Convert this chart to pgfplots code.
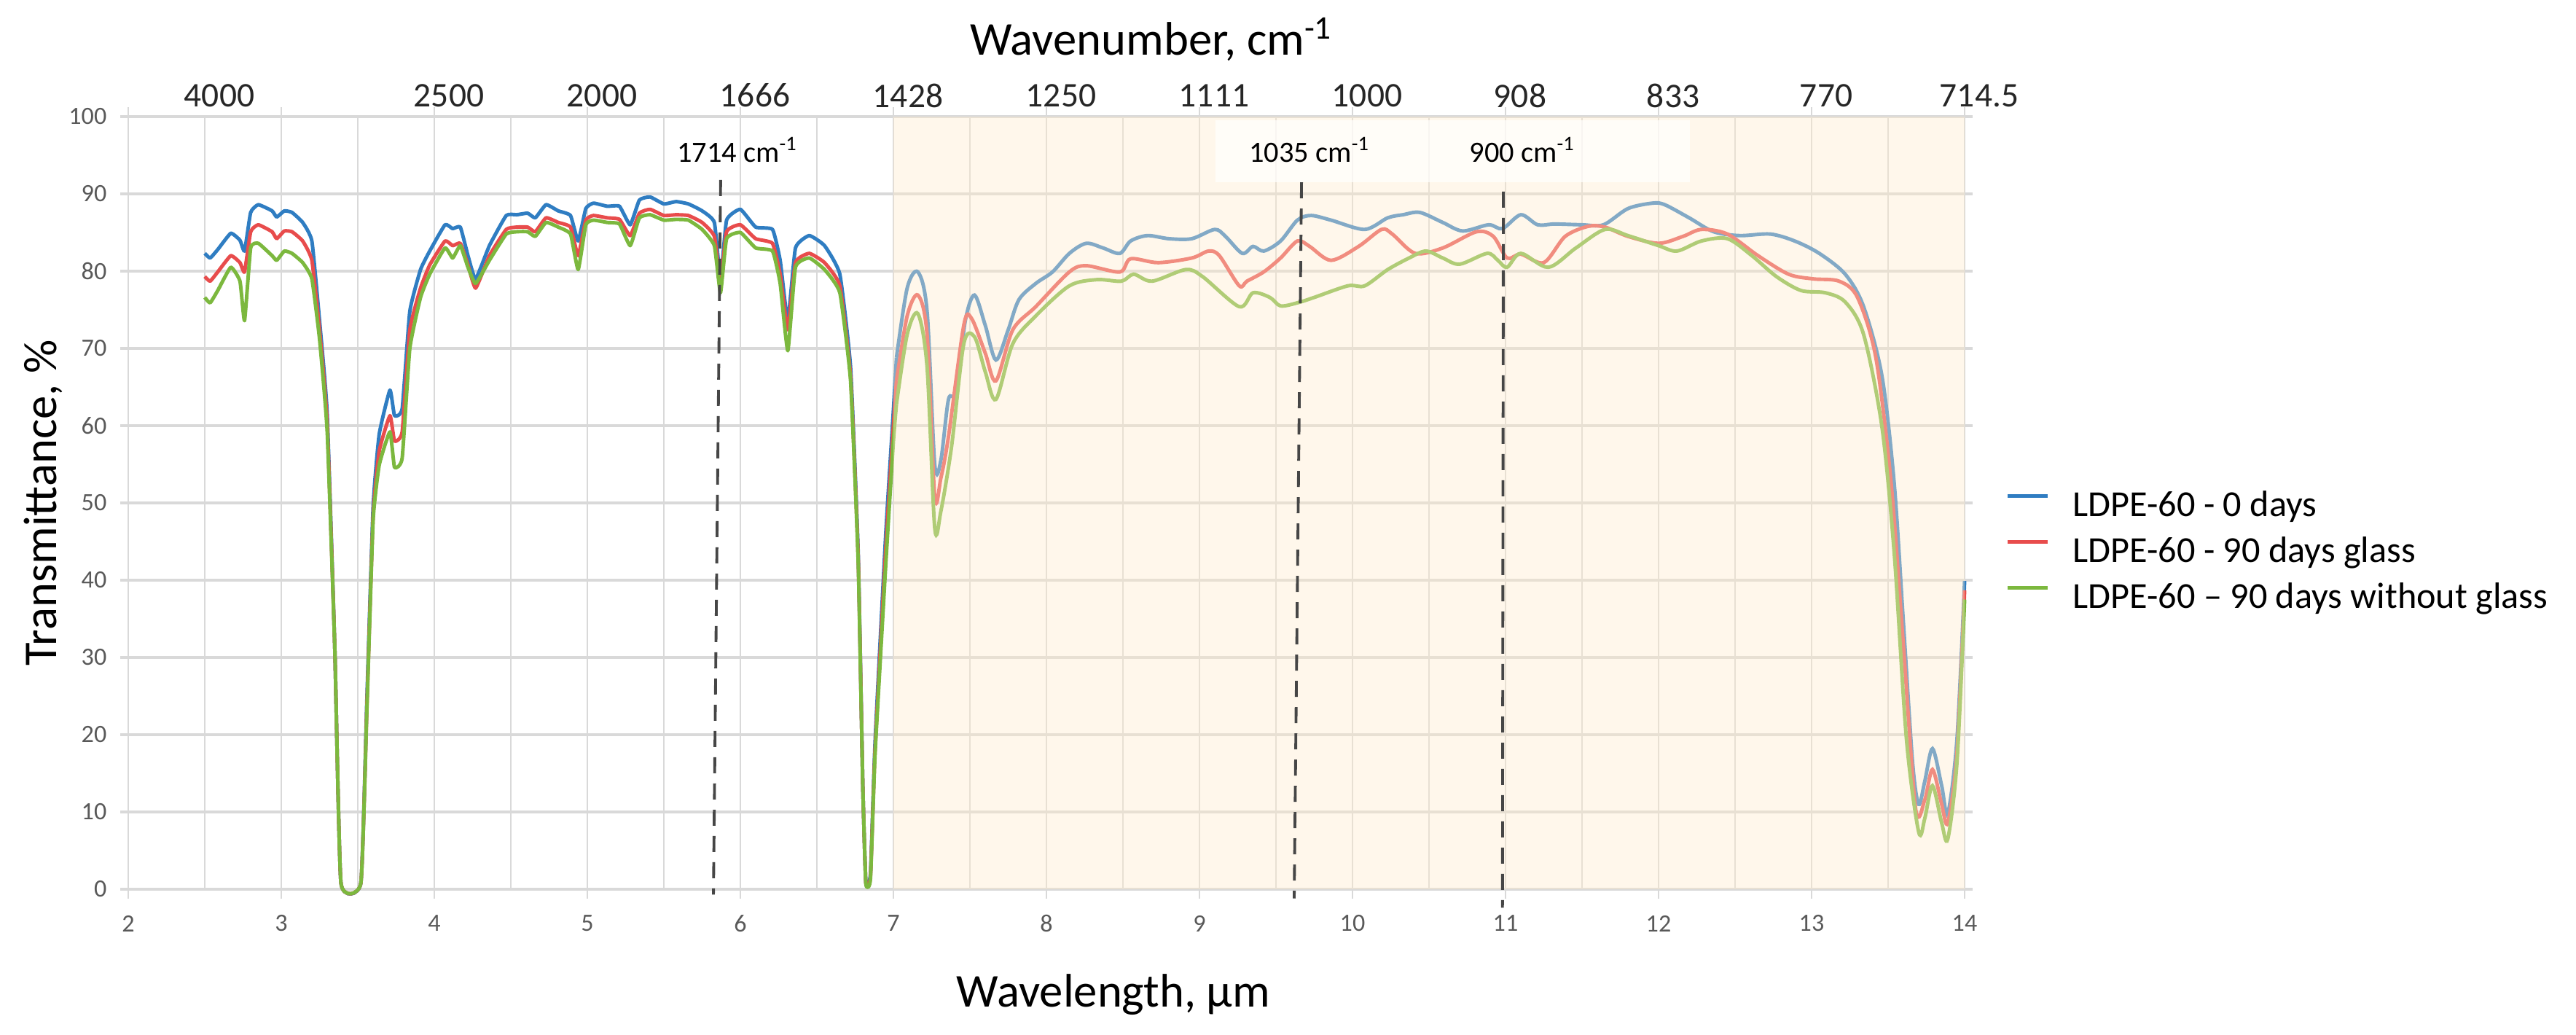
\documentclass[border=0pt]{standalone}
\usepackage{fontspec}
\setmainfont{Carlito}
\usepackage{pgfplots}
\pgfplotsset{compat=1.18}

\definecolor{gridgray}{RGB}{217,217,217}
\definecolor{ticktext}{RGB}{89,89,89}
\definecolor{toptext}{RGB}{38,38,38}
\definecolor{sblue}{RGB}{47,125,194}
\definecolor{sred}{RGB}{232,76,76}
\definecolor{sgreen}{RGB}{124,184,62}
\definecolor{bandcolor}{RGB}{255,236,204}
\definecolor{dashgray}{RGB}{70,70,70}

\begin{document}
\begin{tikzpicture}
\useasboundingbox (-17.6mm,-19.9mm) rectangle (335.9mm,122mm);

% horizontal grid lines and y tick labels
\begin{axis}[
    scale only axis, width=252mm, height=106mm,
    xmin=2, xmax=14, ymin=0, ymax=100,
    axis line style={draw=none},
    xtick=\empty,
    ytick={0,10,...,100},
    ymajorgrids,
    grid style={line width=1.3pt, color=gridgray},
    tick align=outside, major tick length=1.1mm,
    tick style={line width=1.3pt, color=gridgray},
    yticklabel style={font=\fontsize{9.7}{11}\selectfont, text=ticktext, anchor=east, inner sep=0pt, xshift=-1.8mm},
    /pgf/number format/assume math mode=true,
]
\end{axis}

% main axis: vertical grid, curves, notes
\begin{axis}[
    scale only axis, width=252mm, height=106mm,
    xmin=2, xmax=14, ymin=0, ymax=100,
    axis line style={draw=none},
    xtick={2,...,14}, minor x tick num=1,
    ytick=\empty,
    xmajorgrids, xminorgrids,
    grid style={line width=0.55pt, color=gridgray},
    tick align=outside, major tick length=1.3mm, minor tick length=0pt,
    tick style={line width=0.55pt, color=gridgray},
    xticklabel style={font=\fontsize{9.7}{11}\selectfont, text=ticktext, anchor=center, yshift=-3.4mm},
    /pgf/number format/assume math mode=true,
    clip=false,
    legend style={
        at={(axis cs:14,43.45)}, anchor=west, xshift=5.6mm,
        draw=none, fill=none, inner sep=0pt, row sep=2.86pt,
        nodes={inner sep=0pt, text height=11pt, text depth=4pt},
        font=\fontsize{14.3}{17}\selectfont,
        /tikz/every odd column/.append style={column sep=3.2mm},
    },
    legend cell align=left,
    legend image code/.code={\draw[#1, sharp plot] (0mm,1.6mm) -- (5.5mm,1.6mm);},
]

% ---- 2.5 to 7 um
\addplot[sblue, line width=1.4pt, line join=round, smooth, tension=0.25] coordinates {
    (2.50,82.3) (2.535,81.7) (2.585,82.8) (2.67,84.9) (2.73,84.0) (2.76,82.6)
    (2.80,87.6) (2.85,88.6) (2.94,87.8) (2.97,87.0) (3.02,87.8) (3.07,87.6)
    (3.14,86.3) (3.20,83.9) (3.25,73.6) (3.30,61.6) (3.35,31.0) (3.39,0.8)
    (3.52,0.8) (3.56,25) (3.60,49.5) (3.64,58.9) (3.71,64.6) (3.74,61.3)
    (3.79,62.2) (3.84,74.8) (3.91,80.2) (3.97,82.6) (4.07,86.0) (4.12,85.5)
    (4.17,85.7) (4.22,82.0) (4.27,79.0) (4.36,83.3) (4.47,87.2) (4.54,87.3)
    (4.61,87.5) (4.66,86.9) (4.73,88.6) (4.81,87.8) (4.89,87.2) (4.94,83.9)
    (4.99,88.1) (5.04,88.8) (5.13,88.4) (5.21,88.4) (5.28,86.0) (5.34,89.2)
    (5.41,89.6) (5.50,88.7) (5.58,89.0) (5.66,88.7) (5.75,87.8) (5.83,86.3)
    (5.87,79.0) (5.91,86.6) (6.00,88.0) (6.10,85.7) (6.21,85.4) (6.26,81.4)
    (6.31,73.6) (6.36,83.0) (6.45,84.6) (6.55,83.3) (6.65,79.6) (6.72,67.6)
    (6.77,43.5) (6.80,13.4) (6.82,0.9) (6.85,2) (6.88,19) (6.95,46)
    (7.00,62) (7.02,68.8)
};
\addlegendentry{LDPE-60 - 0 days}

\addplot[sred, line width=1.4pt, line join=round, smooth, tension=0.25] coordinates {
    (2.50,79.3) (2.535,78.7) (2.585,79.9) (2.67,82.0) (2.73,81.1) (2.76,79.9)
    (2.80,85.1) (2.85,86.0) (2.94,85.1) (2.97,84.2) (3.02,85.2) (3.07,85.1)
    (3.14,83.9) (3.20,81.4) (3.25,72.4) (3.30,60.4) (3.35,31.0) (3.39,0.8)
    (3.52,0.8) (3.56,24) (3.60,48.3) (3.64,56.7) (3.71,61.3) (3.74,58.0)
    (3.79,59.2) (3.84,72.4) (3.91,77.8) (3.97,80.8) (4.07,83.9) (4.12,83.3)
    (4.17,83.6) (4.22,80.8) (4.27,77.8) (4.36,82.0) (4.47,85.4) (4.54,85.7)
    (4.61,85.7) (4.66,85.1) (4.73,86.9) (4.81,86.3) (4.89,85.7) (4.94,82.0)
    (4.99,86.6) (5.04,87.2) (5.13,86.9) (5.21,86.7) (5.28,84.6) (5.34,87.5)
    (5.41,88.0) (5.50,87.2) (5.58,87.3) (5.66,87.2) (5.75,86.3) (5.83,84.5)
    (5.87,78.4) (5.91,85.1) (6.00,86.0) (6.10,84.2) (6.21,83.6) (6.26,79.6)
    (6.31,72.4) (6.36,81.1) (6.45,82.3) (6.55,81.1) (6.65,78.1) (6.72,66.4)
    (6.77,42.9) (6.80,13.4) (6.82,0.8) (6.85,1.6) (6.88,18) (6.95,44)
    (7.00,60) (7.02,65.8)
};
\addlegendentry{LDPE-60 - 90 days glass}

\addplot[sgreen, line width=1.4pt, line join=round, smooth, tension=0.25] coordinates {
    (2.50,76.6) (2.535,75.9) (2.585,77.5) (2.67,80.5) (2.73,78.7) (2.76,73.6)
    (2.80,83.0) (2.85,83.6) (2.94,82.0) (2.97,81.4) (3.02,82.6) (3.07,82.3)
    (3.14,81.1) (3.20,79.0) (3.25,71.2) (3.30,59.2) (3.35,31.0) (3.39,0.8)
    (3.52,0.8) (3.56,23.6) (3.60,47.7) (3.64,54.9) (3.71,59.2) (3.74,54.6)
    (3.79,55.8) (3.84,70.0) (3.91,76.6) (3.97,79.6) (4.07,83.0) (4.12,81.7)
    (4.17,83.3) (4.22,80.5) (4.27,78.4) (4.36,81.4) (4.47,84.8) (4.54,85.1)
    (4.61,85.1) (4.66,84.5) (4.73,86.3) (4.81,85.7) (4.89,84.8) (4.94,80.2)
    (4.99,86.0) (5.04,86.6) (5.13,86.3) (5.21,86.1) (5.28,83.3) (5.34,86.9)
    (5.41,87.3) (5.50,86.6) (5.58,86.7) (5.66,86.6) (5.75,85.4) (5.83,83.3)
    (5.87,77.2) (5.91,84.2) (6.00,85.0) (6.10,83.0) (6.21,82.6) (6.26,78.4)
    (6.31,69.7) (6.36,80.5) (6.45,81.7) (6.55,80.2) (6.65,77.2) (6.72,65.8)
    (6.77,42.3) (6.80,13.4) (6.82,0.7) (6.85,1.3) (6.88,17.4) (6.95,42)
    (7.00,58) (7.02,62.8)
};
\addlegendentry{LDPE-60 – 90 days without glass}

% ---- 7 to 14 um
\addplot[sblue, line width=1.4pt, smooth, tension=0.5, forget plot] coordinates {
    (7.02,68.8) (7.09,77.8) (7.16,79.9) (7.22,74.8) (7.27,55)
    (7.31,55.5) (7.36,63.4) (7.41,64.3) (7.47,73.6) (7.53,76.9) (7.60,73.0)
    (7.67,68.5) (7.75,72.4) (7.82,76.3) (7.93,78.4) (8.04,79.9) (8.15,82.3)
    (8.26,83.6) (8.37,83.0) (8.48,82.3) (8.55,83.9) (8.66,84.6) (8.80,84.2)
    (8.95,84.2) (9.10,85.4) (9.17,84.5) (9.28,82.3) (9.35,83.2) (9.42,82.6)
    (9.53,83.9) (9.64,86.6) (9.73,87.2) (9.86,86.6) (10.08,85.4) (10.23,86.9)
    (10.33,87.3) (10.44,87.6) (10.59,86.3) (10.72,85.2) (10.89,86.0) (10.98,85.5)
    (11.10,87.3) (11.21,86.0) (11.32,86.1) (11.50,86.0) (11.64,86.0) (11.80,88.1)
    (11.96,88.8) (12.04,88.6) (12.20,86.9) (12.36,85.1) (12.53,84.6) (12.73,84.8)
    (12.89,83.9) (13.05,82.3) (13.22,79.6) (13.34,75.4) (13.46,66.4) (13.54,52.5)
    (13.60,34.5) (13.66,16.4) (13.70,11) (13.74,14) (13.79,18.2) (13.85,13.4)
    (13.89,9.8) (13.95,19.4) (14.00,39.9)
};
\addplot[sred, line width=1.4pt, smooth, tension=0.5, forget plot] coordinates {
    (7.02,65.8) (7.09,74.2) (7.16,76.9) (7.22,71.8) (7.27,50.8)
    (7.31,53.2) (7.36,58.6) (7.46,73.0) (7.51,73.9) (7.60,69.4) (7.67,65.8)
    (7.78,72.4) (7.93,75.4) (8.15,79.9) (8.26,80.7) (8.48,79.9) (8.55,81.6)
    (8.73,81.1) (8.95,81.7) (9.06,82.6) (9.13,82.0) (9.26,78.1) (9.31,78.7)
    (9.42,79.9) (9.53,81.7) (9.64,83.9) (9.72,83.2) (9.86,81.4) (10.04,83.2)
    (10.19,85.4) (10.26,84.8) (10.41,82.3) (10.59,83.0) (10.81,85.1) (10.92,84.5)
    (11.01,81.7) (11.10,82.2) (11.25,81.1) (11.39,84.5) (11.54,85.8) (11.65,85.7)
    (11.80,84.5) (12.00,83.6) (12.16,84.5) (12.28,85.4) (12.45,84.8) (12.65,82.0)
    (12.85,79.6) (13.01,79.0) (13.18,78.7) (13.30,76.6) (13.42,68.8) (13.52,52.5)
    (13.60,31.5) (13.68,10.4) (13.74,11.6) (13.79,15.5) (13.85,11.0) (13.89,8.6)
    (13.95,17.6) (14.00,38.7)
};
\addplot[sgreen, line width=1.4pt, smooth, tension=0.5, forget plot] coordinates {
    (7.02,62.8) (7.09,71.8) (7.16,74.5) (7.22,67.6) (7.27,46.8)
    (7.31,48.9) (7.38,57.3) (7.46,70.6) (7.53,71.5) (7.60,67.0) (7.67,63.4)
    (7.78,70.6) (7.93,74.2) (8.15,78.1) (8.33,78.9) (8.49,78.7) (8.57,79.6)
    (8.69,78.7) (8.91,80.2) (9.02,79.3) (9.26,75.4) (9.35,77.2) (9.46,76.6)
    (9.53,75.5) (9.64,75.9) (9.75,76.6) (9.97,78.1) (10.08,78.1) (10.23,80.2)
    (10.37,81.7) (10.48,82.6) (10.59,81.7) (10.70,80.9) (10.88,82.3) (10.95,81.4)
    (11.01,80.5) (11.10,82.3) (11.28,80.5) (11.46,83.0) (11.65,85.4) (11.80,84.6)
    (12.00,83.3) (12.12,82.6) (12.28,83.9) (12.45,84.2) (12.61,82.0) (12.77,79.3)
    (12.93,77.5) (13.09,77.2) (13.22,76.0) (13.34,71.8) (13.46,59.8) (13.54,43.5)
    (13.62,19.4) (13.70,7.4) (13.74,9.2) (13.79,13.4) (13.85,8.6) (13.89,6.5)
    (13.95,16.4) (14.00,37.5)
};

% translucent band 7-14 um, laid over the curves
\fill[bandcolor, fill opacity=0.4] (axis cs:7,0) rectangle (axis cs:14,100);
\fill[white, fill opacity=0.7] (axis cs:9.105,91.5) rectangle (axis cs:12.205,99.5);

% marker lines
\draw[dashgray, line width=1.1pt, dash pattern=on 2.2mm off 1.4mm]
    (axis cs:5.871,91.8) -- (axis cs:5.824,-0.7);
\draw[dashgray, line width=1.1pt, dash pattern=on 2.2mm off 1.4mm]
    (axis cs:9.667,91.5) -- (axis cs:9.619,-1.2);
\draw[dashgray, line width=1.1pt, dash pattern=on 2.2mm off 1.4mm]
    (axis cs:10.986,90.3) -- (axis cs:10.98,-2.4);

\node[font=\fontsize{11.5}{13}\selectfont, anchor=base] at (axis cs:5.98,94.15) {1714 cm\textsuperscript{-1}};
\node[font=\fontsize{11.5}{13}\selectfont, anchor=base] at (axis cs:9.719,94.15) {1035 cm\textsuperscript{-1}};
\node[font=\fontsize{11.5}{13}\selectfont, anchor=base] at (axis cs:11.11,94.15) {900 cm\textsuperscript{-1}};

% axis titles
\node[font=\fontsize{18.4}{22}\selectfont, anchor=base] at (axis cs:8.686,108.0) {Wavenumber, cm\textsuperscript{-1}};
\node[font=\fontsize{18.4}{22}\selectfont, anchor=base] at (axis cs:8.438,-15.28) {Wavelength, µm};
\node[font=\fontsize{18.4}{22}\selectfont, anchor=base, rotate=90] at (axis cs:1.533,50) {Transmittance, \%};
\end{axis}

% top wavenumber scale
\begin{axis}[
    scale only axis, width=252mm, height=106mm,
    xmin=2, xmax=14, ymin=0, ymax=100,
    axis x line*=top, axis y line=none,
    axis line style={draw=none},
    xtick={2.5,4,5,6,7,8,9,10,11,12,13,14},
    xticklabels={4000,2500,2000,1666,1428,1250,1111,1000,908,833,770,714.5},
    major tick length=0pt,
    xticklabel style={font=\fontsize{13.5}{16}\selectfont, text=toptext, anchor=center, xshift=2mm, yshift=2.9mm},
]
\end{axis}
\end{tikzpicture}
\end{document}
